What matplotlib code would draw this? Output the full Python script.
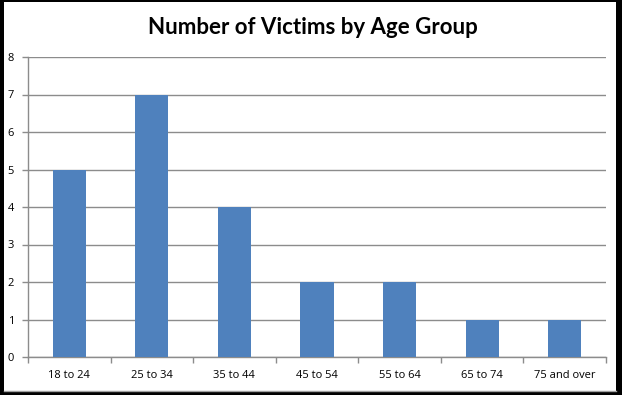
import matplotlib
matplotlib.use("Agg")
import matplotlib.pyplot as plt
from matplotlib.patches import Rectangle

categories = ["18 to 24", "25 to 34", "35 to 44", "45 to 54", "55 to 64", "65 to 74", "75 and over"]
victims = [5, 7, 4, 2, 2, 1, 1]
yticks = [0, 1, 2, 3, 4, 5, 6, 7, 8]

W, H = 622, 395
fig = plt.figure(figsize=(W / 100, H / 100), dpi=100)
fig.patch.set_facecolor("white")
# black frame bands (left, top, right, bottom)
for (x0, y0, w, h) in [(0, 0, 4, H), (0, 0, W, 2), (616, 0, 6, H), (0, 392, W, 3)]:
    fig.add_artist(Rectangle((x0 / W, 1 - (y0 + h) / H), w / W, h / H,
                             transform=fig.transFigure, facecolor="black",
                             edgecolor="none", zorder=5))
fig.add_artist(plt.Line2D([4 / W, 616 / W], [1 - 390.5 / H, 1 - 390.5 / H],
                          transform=fig.transFigure, color="#a0a0a0", lw=1, zorder=5))

left, right = 28 / W, 606 / W
top, bottom = 1 - 57 / H, 1 - 357 / H
ax = fig.add_axes([left, bottom, right - left, top - bottom])
ax.set_facecolor("white")

x = list(range(len(categories)))
ax.bar(x, victims, width=0.4, color="#4F81BD", zorder=3)
ax.set_xlim(-0.5, len(categories) - 0.5)
ax.set_ylim(0, 8)
ax.set_yticks(yticks)
ax.set_yticklabels([str(t) for t in yticks], fontsize=8, family="Open Sans")
ax.yaxis.grid(True, color="#8c8c8c", lw=1)
ax.set_axisbelow(True)

ax.set_xticks([i + 0.5 for i in range(-1, len(categories))], minor=False)
ax.set_xticklabels([])
ax.tick_params(axis="x", length=4, color="#8c8c8c", width=1, direction="out")
ax.set_xticks(x, minor=True)
ax.set_xticklabels(categories, minor=True, fontsize=8, family="Open Sans")
ax.tick_params(axis="x", which="minor", length=0, pad=9)
ax.tick_params(axis="y", length=4, color="#8c8c8c", width=1, direction="out", pad=6)

for s in ["top", "right"]:
    ax.spines[s].set_visible(False)
for s in ["left", "bottom"]:
    ax.spines[s].set_color("#8c8c8c")
    ax.spines[s].set_linewidth(1)

fig.text(313 / W, 1 - 28 / H, "Number of Victims by Age Group", ha="center", va="center",
         fontsize=16, fontweight="bold", family="Lato", color="black")

fig.savefig("out.png", dpi=100, facecolor=fig.get_facecolor())
